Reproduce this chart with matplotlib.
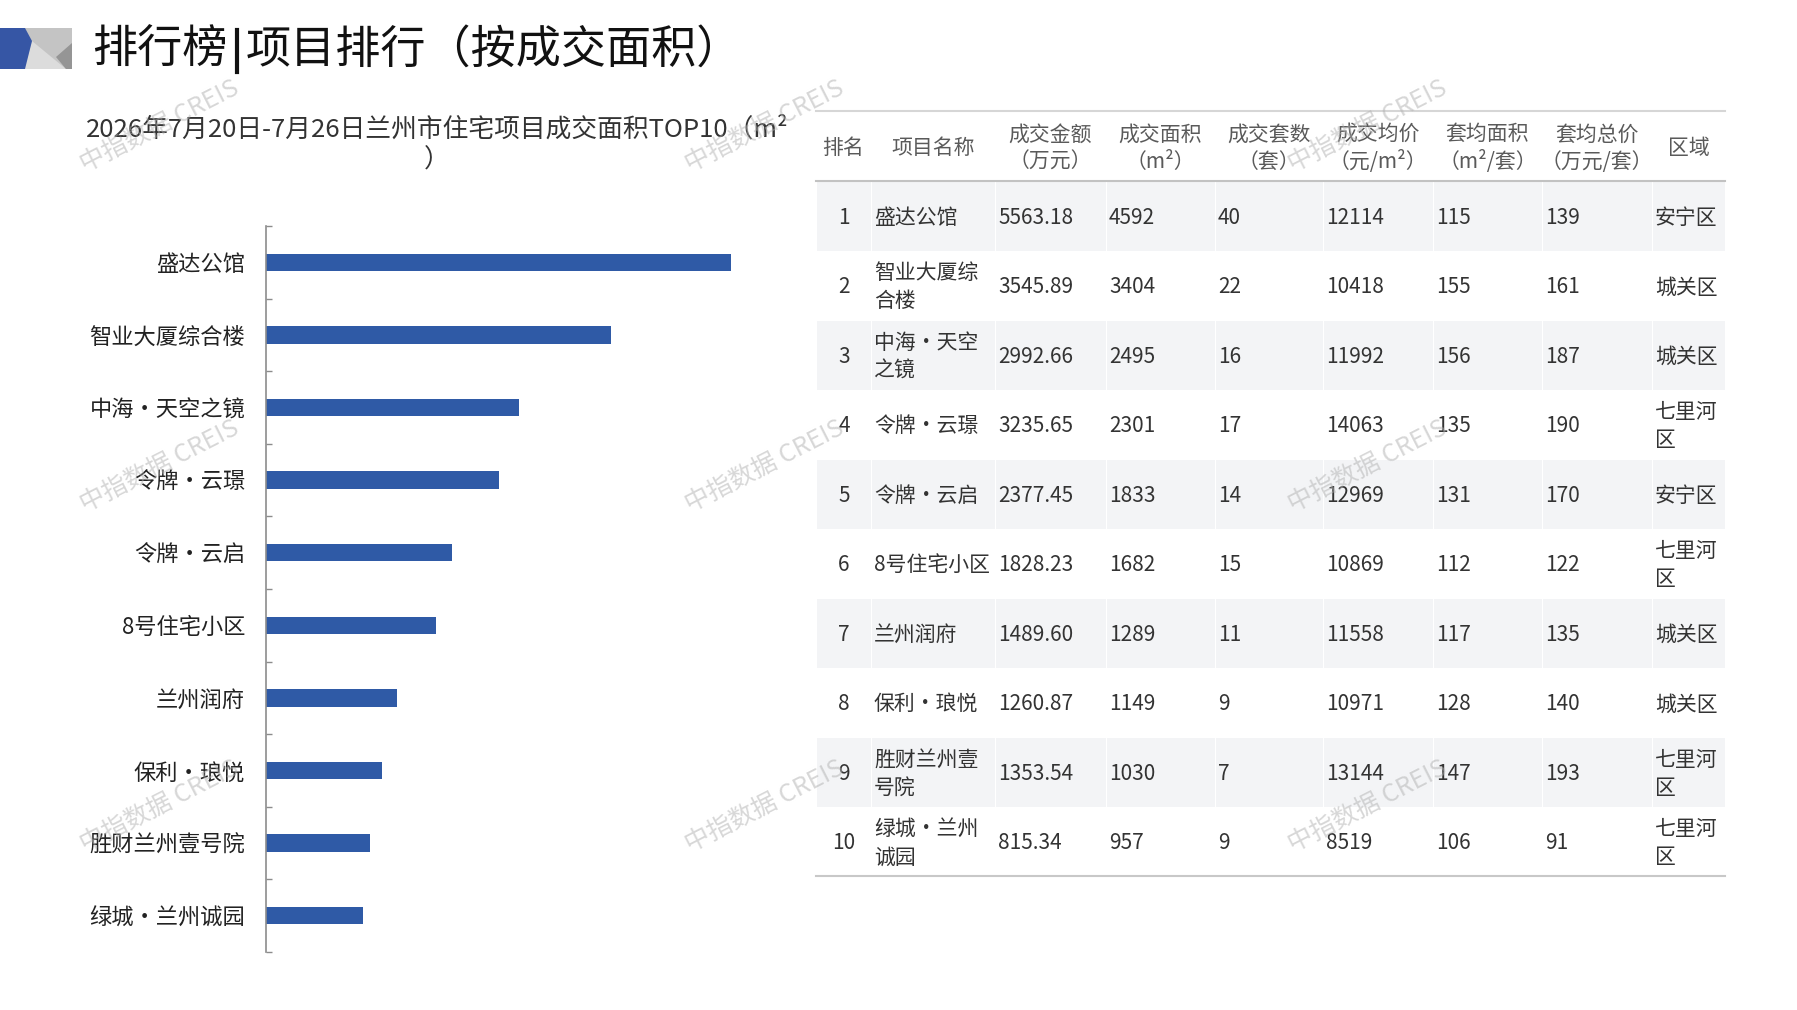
import numpy as np
import matplotlib.pyplot as plt
from matplotlib.patches import Polygon, Rectangle

plt.rcParams['font.family'] = ['Noto Sans CJK SC', 'DejaVu Sans']

W, H = 1797, 1010

# ---- data ----
projects = ['盛达公馆', '智业大厦综合楼', '中海•天空之镜', '令牌•云璟', '令牌•云启',
            '8号住宅小区', '兰州润府', '保利•琅悦', '胜财兰州壹号院', '绿城•兰州诚园']
amount = ['5563.18', '3545.89', '2992.66', '3235.65', '2377.45',
          '1828.23', '1489.60', '1260.87', '1353.54', '815.34']
area = [4592, 3404, 2495, 2301, 1833, 1682, 1289, 1149, 1030, 957]
units = [40, 22, 16, 17, 14, 15, 11, 9, 7, 9]
avg_price = [12114, 10418, 11992, 14063, 12969, 10869, 11558, 10971, 13144, 8519]
unit_area = [115, 155, 156, 135, 131, 112, 117, 128, 147, 106]
unit_total = [139, 161, 187, 190, 170, 122, 135, 140, 193, 91]
district = ['安宁区', '城关区', '城关区', '七里河区', '安宁区',
            '七里河区', '城关区', '城关区', '七里河区', '七里河区']

headers = ['排名', '项目名称', '成交金额\n（万元）', '成交面积\n（m²）', '成交套数\n（套）',
           '成交均价\n（元/m²）', '套均面积\n（m²/套）', '套均总价\n（万元/套）', '区域']

main_title = '项目排行（按成交面积）'
sub_title = '2026年7月20日-7月26日兰州市住宅项目成交面积TOP10（m²\n）'
watermark = '中指数据 CREIS'


def wrap(s, limit):
    lines, cur, w = [], '', 0
    for ch in s:
        cw = 0.57 if ord(ch) < 128 else 1.0
        if w + cw > limit and cur:
            lines.append(cur)
            cur, w = '', 0
        cur += ch
        w += cw
    lines.append(cur)
    return lines


fig = plt.figure(figsize=(W / 100, H / 100), dpi=100)

# overlay in pixel coords
bg = fig.add_axes([0, 0, 1, 1])
bg.set_xlim(0, W)
bg.set_ylim(H, 0)
bg.axis('off')

# logo
bg.add_patch(Rectangle((25, 28), 47, 41, color='#c4c4c4', lw=0))
bg.add_patch(Polygon([(32, 41), (66, 69), (24, 69)], color='#dcdcdc', lw=0))
bg.add_patch(Polygon([(72, 43), (72, 69), (66, 69), (56, 57)], color='#959595', lw=0))
bg.add_patch(Polygon([(0, 28), (25, 28), (32, 41), (25, 69), (0, 69)], color='#3656a5', lw=0))

# title
bg.text(92, 50, '排行榜', fontsize=32.5, va='center', ha='left', color='#111111')
bg.plot([237, 237], [30, 72], color='#111111', lw=3)
bg.text(246, 50, main_title, fontsize=32.5, va='center', ha='left', color='#111111')

# subtitle
bg.text(437, 145, sub_title, fontsize=18.5, va='center', ha='center',
        color='#333333', linespacing=1.25)

# ---- bar chart ----
ax_l, ax_top, ax_bot = 266, 226, 952
xmax = 5000
ax_w = (731 - ax_l) * xmax / area[0]
ax = fig.add_axes([ax_l / W, 1 - ax_bot / H, ax_w / W, (ax_bot - ax_top) / H])
ypos = np.arange(len(projects))
ax.barh(ypos, area, height=0.24, color='#2f5aa6')
ax.set_xlim(0, xmax)
ax.set_ylim(len(projects) - 0.5, -0.5)
for s in ['top', 'right', 'bottom']:
    ax.spines[s].set_visible(False)
ax.spines['left'].set_color('#8c8c8c')
ax.spines['left'].set_linewidth(1.2)
ax.set_xticks([])
ax.set_yticks(ypos)
ax.set_yticklabels(projects, fontsize=16, color='#222222')
ax.tick_params(axis='y', which='major', length=0, pad=15)
ax.set_yticks(np.arange(-0.5, len(projects)), minor=True)
ax.tick_params(axis='y', which='minor', direction='in', length=4, color='#8c8c8c', width=1)
ax.patch.set_alpha(0)

# ---- table ----
bounds = [816, 871, 995, 1106, 1215, 1323, 1433, 1542, 1652, 1725]
t_top, h_bot, row_h = 111, 181, 69.5
n = len(projects)
t_bot = h_bot + n * row_h

for i in range(n):
    if i % 2 == 0:
        y0 = h_bot + 1 + i * row_h
        for c in range(len(bounds) - 1):
            bg.add_patch(Rectangle((bounds[c] + 1, y0), bounds[c + 1] - bounds[c] - 1.5,
                                   row_h - 1, color='#f3f4f6', lw=0))

bg.plot([bounds[0], bounds[-1]], [t_top, t_top], color='#d6d6d6', lw=1.5)
bg.plot([bounds[0], bounds[-1]], [h_bot, h_bot], color='#c2c2c2', lw=1.5)
bg.plot([bounds[0], bounds[-1]], [t_bot, t_bot], color='#c8c8c8', lw=1.5)

h_mid = (t_top + h_bot) / 2
for c, hd in enumerate(headers):
    cx = (bounds[c] + bounds[c + 1]) / 2
    if c == 0:
        cx = 843
    bg.text(cx, h_mid + 2, hd, fontsize=15, ha='center', va='center',
            color='#5a5a5a', linespacing=1.3)

line_gap = 28
for i in range(n):
    cy = h_bot + (i + 0.5) * row_h + 2
    bg.text(844, cy, str(i + 1), fontsize=15, ha='center', va='center', color='#333333')
    cells = [wrap(projects[i], 5.6), [amount[i]], [str(area[i])], [str(units[i])],
             [str(avg_price[i])], [str(unit_area[i])], [str(unit_total[i])],
             wrap(district[i], 3.4)]
    for c, lines in enumerate(cells, start=1):
        x = bounds[c] + 3
        k = len(lines)
        for j, ln in enumerate(lines):
            bg.text(x, cy + (j - (k - 1) / 2) * line_gap, ln, fontsize=15,
                    ha='left', va='center', color='#333333')

# watermarks
for wy in [126, 466, 806]:
    for wx in [160, 765, 1368]:
        fig.text(wx / W, 1 - wy / H, watermark, fontsize=18, rotation=27,
                 ha='center', va='center', color='#b0b0b0', alpha=0.5,
                 rotation_mode='anchor', zorder=10)

fig.savefig('out.png', dpi=100)
